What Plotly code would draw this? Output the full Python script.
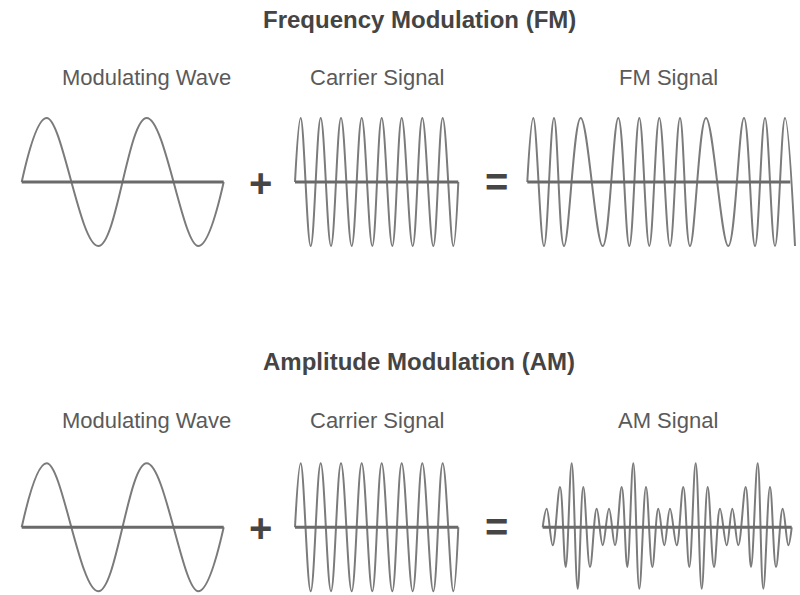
import plotly.graph_objects as go

W, H = 800, 595

# ---- data: extrema of each waveform (time in arbitrary units, amplitude normalised) ----
mod_t = [0, 2.5, 7.66, 12.5, 17.66, 20.2]
mod_v = [0, 1, -1, 1, -1, 0]

car_t = [0, 0.57, 1.57, 2.57, 3.6, 4.6, 5.67, 6.67, 7.73, 8.67, 9.73,
         10.67, 11.77, 12.73, 13.83, 14.77, 15.83, 16.33]
car_v = [0, 1, -1, 1, -1, 1, -1, 1, -1, 1, -1, 1, -1, 1, -1, 1, -1, 0]

fm_t = [0, 0.60, 1.67, 2.67, 3.67, 5.34, 7.54, 9.10, 10.20, 11.20, 12.20,
        13.20, 14.27, 15.27, 16.27, 17.87, 20.10, 21.67, 22.77, 23.77,
        24.77, 25.77, 26.77]
fm_v = [0, 1, -1, 1, -1, 1, -1, 1, -1, 1, -1,
        1, -1, 1, -1, 1, -1, 1, -1, 1,
        -1, 1, -1]
fm_base = [0, 26.3]

am_t = [0, 0.40, 1.00, 1.73, 2.30, 2.90, 3.50, 4.06, 4.73, 5.40, 6.00,
        6.63, 7.23, 7.90, 8.46, 9.06, 9.66, 10.33, 10.96, 11.56, 12.16,
        12.73, 13.40, 14.06, 14.66, 15.30, 15.90, 16.50, 17.13, 17.73, 18.40,
        18.96, 19.56, 20.30, 20.83, 21.50, 22.06, 22.73, 23.33, 24.00, 24.56,
        24.90]
am_v = [0, 0.29, -0.28, 0.63, -0.62, 1.0, -0.96, 0.63, -0.62, 0.29, -0.28,
        0.29, -0.28, 0.63, -0.62, 1.0, -0.96, 0.63, -0.62, 0.29, -0.28,
        0.29, -0.28, 0.63, -0.62, 1.0, -0.96, 0.63, -0.62, 0.29, -0.28,
        0.29, -0.28, 0.63, -0.62, 1.0, -0.96, 0.63, -0.62, 0.29, -0.28,
        0]

titles = ["Frequency Modulation (FM)", "Amplitude Modulation (AM)"]
labels_fm = ["Modulating Wave", "Carrier Signal", "FM Signal"]
labels_am = ["Modulating Wave", "Carrier Signal", "AM Signal"]

# ---- layout geometry (pixels) ----
SX, SY = 10.0, 64.0
PAD_T, YR = 0.5, 1.05
ROW_Y = [182, 527.3]
WAVE_COLOR = "#7b7b7b"
BASE_COLOR = "#6a6a6a"

panels = [
    (mod_t, mod_v, [mod_t[0], mod_t[-1]], 21.7, 0),
    (car_t, car_v, [car_t[0], car_t[-1]], 295.0, 0),
    (fm_t, fm_v, fm_base, 527.3, 0),
    (mod_t, mod_v, [mod_t[0], mod_t[-1]], 21.7, 1),
    (car_t, car_v, [car_t[0], car_t[-1]], 295.0, 1),
    (am_t, am_v, [am_t[0], am_t[-1]], 542.7, 1),
]

fig = go.Figure()
layout_axes = {}
for i, (t, v, base, x0, row) in enumerate(panels, start=1):
    xa = "x" if i == 1 else f"x{i}"
    ya = "y" if i == 1 else f"y{i}"
    tmax = max(t)
    dx0 = max(0.0, (x0 - PAD_T * SX) / W)
    dx1 = min(1.0, (x0 + (tmax + PAD_T) * SX) / W)
    yc = ROW_Y[row]
    dy0 = max(0.0, (H - (yc + YR * SY)) / H)
    dy1 = min(1.0, (H - (yc - YR * SY)) / H)
    fig.add_trace(go.Scatter(x=t, y=v, mode="lines", xaxis=xa, yaxis=ya,
                             line=dict(color=WAVE_COLOR, width=2, shape="spline", smoothing=1.1),
                             hoverinfo="skip", showlegend=False))
    fig.add_trace(go.Scatter(x=base, y=[0, 0], mode="lines", xaxis=xa, yaxis=ya,
                             line=dict(color=BASE_COLOR, width=3),
                             hoverinfo="skip", showlegend=False))
    key_x = "xaxis" if i == 1 else f"xaxis{i}"
    key_y = "yaxis" if i == 1 else f"yaxis{i}"
    layout_axes[key_x] = dict(domain=[dx0, dx1], range=[-PAD_T, tmax + PAD_T],
                              visible=False, anchor=ya, fixedrange=True)
    layout_axes[key_y] = dict(domain=[dy0, dy1], range=[-YR, YR],
                              visible=False, anchor=xa, fixedrange=True)

fig.update_layout(**layout_axes)

annotations = []
def txt(s, x, y, size, color, bold=False):
    annotations.append(dict(text=f"<b>{s}</b>" if bold else s, x=x / W, y=1 - y / H,
                            xref="paper", yref="paper", showarrow=False,
                            xanchor="center", yanchor="middle",
                            font=dict(family="Liberation Sans, Arial, sans-serif",
                                      size=size, color=color)))

title_y = [20, 362]
label_y = [78, 420]
label_x = [146, 377.5, 668]
for r in range(2):
    txt(titles[r], 419, title_y[r], 24, "#444444", bold=True)
    labs = labels_fm if r == 0 else labels_am
    for lx, s in zip(label_x, labs):
        txt(s, lx, label_y[r], 22, "#5a5a5a")
    txt("+", 260, ROW_Y[r] + 1, 40, "#454545", bold=True)
    txt("=", 496, ROW_Y[r], 40, "#454545", bold=True)

fig.update_layout(width=W, height=H, margin=dict(l=0, r=0, t=0, b=0),
                  paper_bgcolor="white", plot_bgcolor="rgba(0,0,0,0)",
                  annotations=annotations, showlegend=False)

fig.write_html("out.html", config={"displayModeBar": False},
               post_script="document.body.style.margin='0';document.body.style.overflow='hidden';")
